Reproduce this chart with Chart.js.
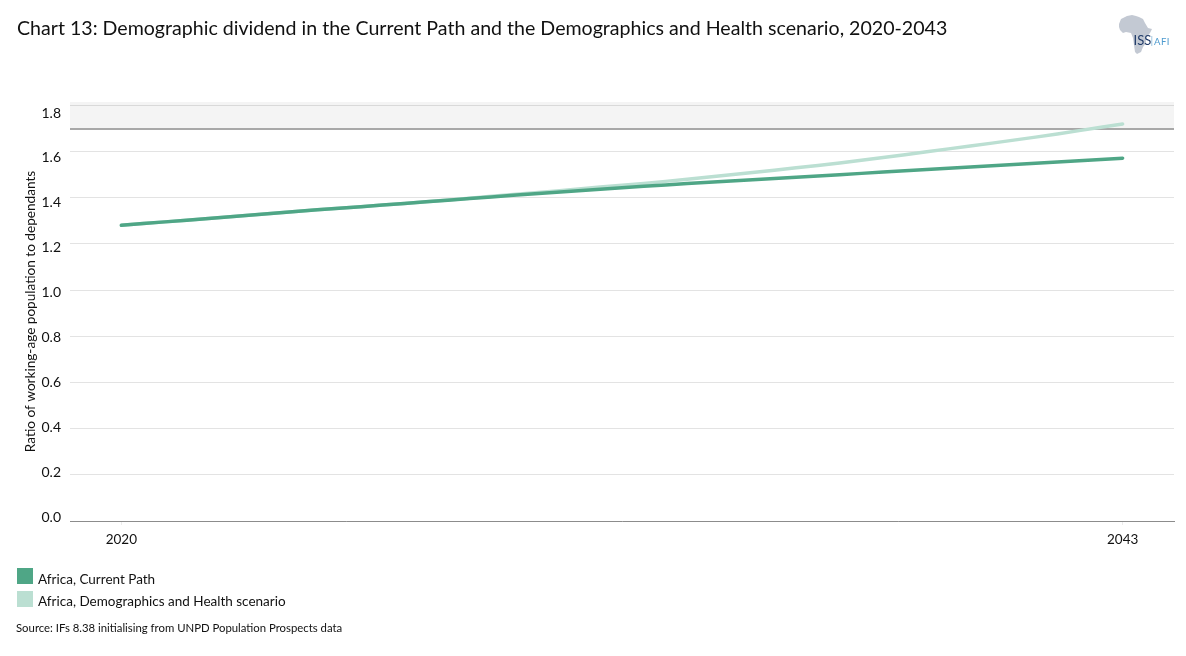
<!DOCTYPE html>
<html>
<head>
<meta charset="utf-8">
<title>Chart 13</title>
<script src="https://cdn.jsdelivr.net/npm/chart.js@4"></script>
<style>
  html, body { margin: 0; padding: 0; background: #fff; }
  body { width: 1186px; height: 656px; position: relative; overflow: hidden; font-family: Lato, sans-serif; color: #111; }
  canvas { position: absolute; left: 0; top: 0; }
  .txt { position: absolute; white-space: nowrap; }
  #title { left: 17px; top: 15px; font-size: 19.6px; line-height: 26px; }
  #legend .swatch { position: absolute; left: 17px; width: 16px; height: 16px; }
  #legend .label { position: absolute; left: 38px; font-size: 13.5px; line-height: 18px; white-space: nowrap; }
  #source { left: 16px; top: 620px; font-size: 11.35px; line-height: 16px; }
  #logo { position: absolute; left: 1110px; top: 5px; }
</style>
</head>
<body>
<canvas id="chart" width="1186" height="656"></canvas>
<div class="txt" id="title">Chart 13: Demographic dividend in the Current Path and the Demographics and Health scenario, 2020-2043</div>
<svg id="logo" width="70" height="55" viewBox="1110 5 70 55">
  <path d="M1119 24 L1121 19 L1127 16 L1132 15 L1136 16 L1139 17 L1143 19 L1145 23 L1148 28 L1152 29 L1150 33 L1146 38 L1146 43 L1143 47 L1141 52 L1137 54 L1135 52 L1134 45 L1133 38 L1131 33 L1126 32 L1123 33 L1120 30 L1119 27 Z" fill="#c3c9d3"/>
  <text x="1133.5" y="45" font-family="Lato" font-size="13" fill="#1f3a68">ISS</text>
  <rect x="1151.5" y="36" width="0.7" height="10" fill="#7fb2d6"/>
  <text x="1154" y="45" font-family="Lato" font-size="9.5" letter-spacing="0.5" fill="#4e9bcf">AFI</text>
</svg>
<div id="legend"></div>
<div class="txt" id="source">Source: IFs 8.38 initialising from UNPD Population Prospects data</div>

<script>
"use strict";

const years = [2020, 2021, 2022, 2023, 2024, 2025, 2026, 2027, 2028, 2029, 2030, 2031,
    2032, 2033, 2034, 2035, 2036, 2037, 2038, 2039, 2040, 2041, 2042, 2043];
const currentPath = [1.280, 1.295, 1.310, 1.325, 1.340, 1.354, 1.368, 1.382, 1.396, 1.410, 1.423, 1.436,
    1.449, 1.461, 1.472, 1.483, 1.494, 1.505, 1.516, 1.527, 1.538, 1.549, 1.560, 1.571];
const demographicsHealth = [1.280, 1.295, 1.310, 1.325, 1.340, 1.354, 1.368, 1.382, 1.397, 1.414, 1.429, 1.446,
    1.461, 1.480, 1.499, 1.519, 1.539, 1.562, 1.586, 1.611, 1.636, 1.662, 1.690, 1.719];
const seriesLabels = ['Africa, Current Path', 'Africa, Demographics and Health scenario'];
const seriesColors = ['#4fa686', '#bbdfd2'];
const xTickValues = [2020, 2043];
const yTickValues = [0, 0.2, 0.4, 0.6, 0.8, 1.0, 1.2, 1.4, 1.6, 1.8];
const bandFloor = 1.697;

const X_MIN = 2018.82, X_MAX = 2044.18;
const Y_MAX = 1.814;
const FONT = 'Lato';

function toPoints(values) {
    return values.map((v, i) => ({x: years[i], y: v}));
}

// legend built from the series
const legend = document.getElementById('legend');
const swatchTops = [568, 591];
const labelTops = [570, 592];
seriesLabels.forEach((label, i) => {
    const s = document.createElement('div');
    s.className = 'swatch';
    s.style.top = swatchTops[i] + 'px';
    s.style.background = seriesColors[i];
    legend.appendChild(s);
    const t = document.createElement('div');
    t.className = 'label';
    t.style.top = labelTops[i] + 'px';
    t.textContent = label;
    legend.appendChild(t);
});

new Chart(document.getElementById('chart'), {
    type: 'line',
    data: {
        datasets: [
            {
                data: toPoints(currentPath),
                borderColor: seriesColors[0],
                borderWidth: 3.5,
                borderCapStyle: 'round',
                pointRadius: 0,
                tension: 0.2,
                fill: false,
                order: 1
            },
            {
                data: toPoints(demographicsHealth),
                borderColor: seriesColors[1],
                borderWidth: 3.5,
                borderCapStyle: 'round',
                pointRadius: 0,
                tension: 0.2,
                fill: false,
                order: 2
            },
            {
                // shaded band above the 1.7 line
                data: [{x: X_MIN, y: bandFloor}, {x: X_MAX, y: bandFloor}],
                borderColor: '#a8a8a8',
                borderWidth: 2,
                pointRadius: 0,
                backgroundColor: 'rgba(0, 0, 0, 0.045)',
                fill: 'end',
                order: 3
            }
        ]
    },
    options: {
        responsive: false,
        animation: false,
        layout: {padding: {top: 102, right: 12, left: 0, bottom: 0}},
        plugins: {legend: {display: false}, tooltip: {enabled: false}},
        scales: {
            x: {
                type: 'linear',
                min: X_MIN,
                max: X_MAX,
                afterBuildTicks: scale => { scale.ticks = xTickValues.map(value => ({value})); },
                afterFit: scale => { scale.height = 135; },
                grid: {drawOnChartArea: false, drawTicks: true, tickLength: 4, tickColor: '#ececec'},
                border: {display: true, color: '#8c8c8c', width: 1},
                ticks: {
                    autoSkip: false,
                    maxRotation: 0,
                    padding: 7,
                    color: '#111',
                    font: {family: FONT, size: 13.5},
                    callback: value => String(value)
                }
            },
            y: {
                type: 'linear',
                position: 'left',
                min: 0,
                max: Y_MAX,
                afterBuildTicks: scale => { scale.ticks = yTickValues.map(value => ({value})); },
                grid: {color: '#e3e3e3', lineWidth: 1, drawTicks: false},
                border: {display: false},
                ticks: {display: false}
            },
            // tick labels sit on a slightly tighter spacing than the gridlines
            yLabels: {
                type: 'linear',
                position: 'left',
                min: -0.0178,
                max: 1.849,
                afterBuildTicks: scale => { scale.ticks = yTickValues.map(value => ({value})); },
                afterFit: scale => { scale.width = 70; },
                grid: {display: false, drawTicks: false},
                border: {display: false},
                ticks: {
                    autoSkip: false,
                    padding: 9,
                    color: '#111',
                    font: {family: FONT, size: 14},
                    callback: value => value.toFixed(1)
                },
                title: {
                    display: true,
                    text: 'Ratio of working-age population to dependants',
                    color: '#111',
                    font: {family: FONT, size: 13.6},
                    padding: {top: 22, bottom: 0}
                }
            }
        }
    }
});
</script>
</body>
</html>
